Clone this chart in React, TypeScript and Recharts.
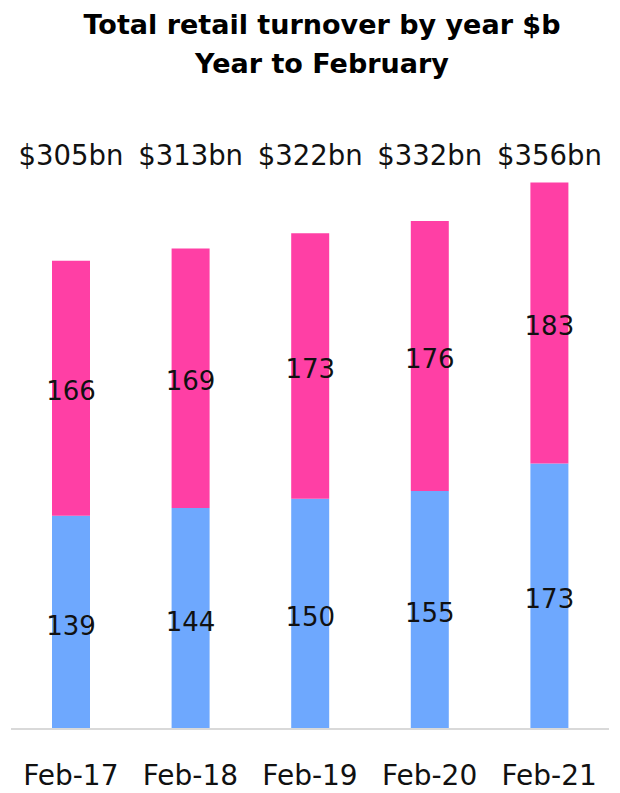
import React from "react";
import { BarChart, Bar, XAxis, YAxis, LabelList } from "recharts";

const categories = ["Feb-17", "Feb-18", "Feb-19", "Feb-20", "Feb-21"];
const lowerValues = [139, 144, 150, 155, 173];
const upperValues = [166, 169, 173, 176, 183];
const totalLabels = ["$305bn", "$313bn", "$322bn", "$332bn", "$356bn"];

const data = categories.map((name, i) => ({
  name,
  lower: lowerValues[i],
  upper: upperValues[i],
  total: totalLabels[i],
}));

const FONT = "'DejaVu Sans', sans-serif";

const TotalLabel = (props: any) => {
  const { x, width, index } = props;
  return (
    <text
      x={x + width / 2}
      y={155}
      textAnchor="middle"
      dominantBaseline="central"
      fontSize={27.5}
      fontFamily={FONT}
      fill="#111"
    >
      {totalLabels[index]}
    </text>
  );
};

export default function App() {
  return (
    <div style={{ position: "absolute", left: 0, top: 0, width: 620, height: 793, background: "#fff" }}>
      <div
        style={{
          position: "absolute",
          left: 0,
          top: 5,
          width: 644,
          textAlign: "center",
          fontFamily: FONT,
          fontWeight: "bold",
          fontSize: 27,
          lineHeight: "39px",
          color: "#000",
        }}
      >
        Total retail turnover by year $b
        <br />
        Year to February
      </div>
      <BarChart
        width={620}
        height={793}
        data={data}
        margin={{ top: 115, right: 11, bottom: 14, left: 11 }}
        style={{ position: "absolute", left: 0, top: 0 }}
      >
        <XAxis
          dataKey="name"
          axisLine={{ stroke: "#d9d9d9", strokeWidth: 2 }}
          tickLine={false}
          tickSize={0}
          tickMargin={36}
          height={50}
          interval={0}
          tick={{ fontSize: 28, fontFamily: FONT, fill: "#111" }}
        />
        <YAxis hide domain={[0, 400]} />
        <Bar dataKey="lower" stackId="a" fill="#6ea8fe" barSize={38} isAnimationActive={false}>
          <LabelList dataKey="lower" position="center" offset={0} dy={3} fill="#111" fontSize={26} fontFamily={FONT} />
        </Bar>
        <Bar dataKey="upper" stackId="a" fill="#ff3fa5" barSize={38} isAnimationActive={false}>
          <LabelList dataKey="upper" position="center" offset={0} dy={3} fill="#111" fontSize={26} fontFamily={FONT} />
          <LabelList dataKey="total" content={<TotalLabel />} />
        </Bar>
      </BarChart>
    </div>
  );
}
